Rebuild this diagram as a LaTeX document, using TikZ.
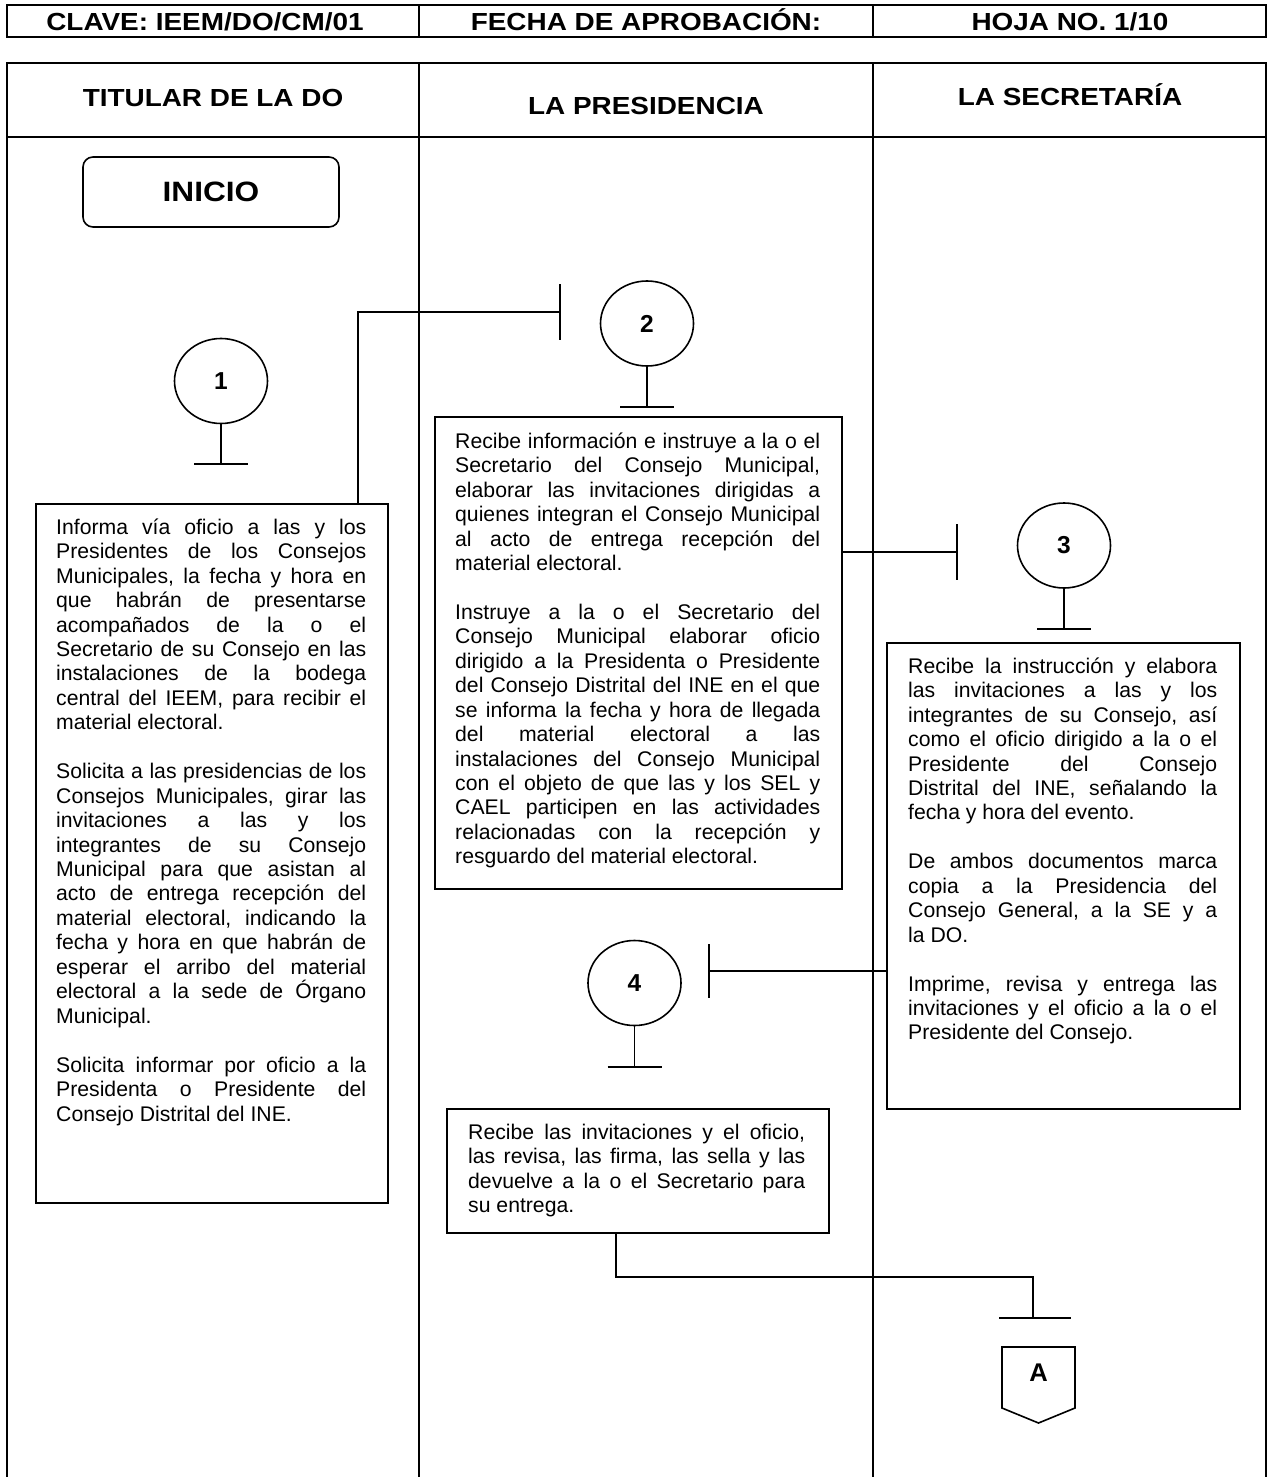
\documentclass[tikz,border=0pt]{standalone}
\usepackage{fontspec}
\setmainfont{Liberation Sans}
\newfontfamily\hdfont[FakeStretch=1.13]{Liberation Sans Bold}
\newfontfamily\bdfont{Liberation Sans Bold}
\usetikzlibrary{shapes.geometric}
\setlength\parindent{0pt}
\setlength\parskip{0pt}
\frenchspacing
\newcommand\jl[1]{\makebox[\hsize][s]{\spaceskip=0pt\xspaceskip=0pt\rule{0pt}{17pt}#1}\par}
\newcommand\lastl[1]{\makebox[\hsize][l]{\spaceskip=0pt\xspaceskip=0pt\rule{0pt}{17pt}#1}\par}
\newcommand\bl{\rule{0pt}{17pt}\par}
\tikzset{
  frame/.style={line width=2.8pt},
  lane/.style={line width=2pt},
  hdtext/.style={anchor=base, inner sep=0pt, font=\hdfont\fontsize{24.7}{29}\selectfont},
  boxnode/.style={draw, line width=1.8pt, inner sep=0pt, anchor=north west},
  txt/.style={inner sep=0pt, anchor=north west, font=\fontsize{21.2}{24.45}\selectfont},
  circ/.style={ellipse, draw, line width=1.6pt, minimum width=93pt, minimum height=85pt, inner sep=0pt, font=\bdfont\fontsize{24.5}{28}\selectfont},
  conn/.style={line width=1.6pt},
  startbox/.style={draw, line width=1.6pt, rounded corners=10pt, minimum width=256pt, minimum height=70pt, inner sep=0pt, font=\hdfont\fontsize{28}{32}\selectfont}
}
\begin{document}
\begin{tikzpicture}[x=1pt, y=-1pt]
\useasboundingbox (0,0) rectangle (1270,1477);
% header table
\draw[frame] (7,5) rectangle (1266,37);
\draw[frame] (419,5) -- (419,37);
\draw[frame] (873,5) -- (873,37);
\node[hdtext] (h1) at (205,31) {CLAVE: IEEM/DO/CM/01};
\node[hdtext] (h2) at (646,31) {FECHA DE APROBACIÓN:};
\node[hdtext] (h3) at (1070,31) {HOJA NO. 1/10};
% lanes
\draw[frame] (7,1477) -- (7,63) -- (1266,63) -- (1266,1477);
\draw[frame] (7,137) -- (1266,137);
\draw[lane] (419,63) -- (419,1477);
\draw[lane] (873,63) -- (873,1477);
\node[hdtext] (l1) at (213,107) {TITULAR DE LA DO};
\node[hdtext] (l2) at (646,115) {LA PRESIDENCIA};
\node[hdtext] (l3) at (1070,106) {LA SECRETARÍA};
% start
\node[startbox] (ini) at (211,192) {INICIO};
% circles
\node[circ] (c1) at (221,381) {1};
\node[circ] (c2) at (647,323.5) {2};
\node[circ] (c3) at (1064,545.5) {3};
\node[circ] (c4) at (634.5,983) {4};
\coordinate (t1) at (221,464);
\coordinate (t2) at (647,407);
\coordinate (t3) at (1064,629);
\coordinate (t4) at (634.5,1067);
\foreach \c/\t in {c1/t1,c2/t2,c3/t3,c4/t4}{
  \draw[conn] (\c.south) -- (\t);
  \draw[conn] ([xshift=-27pt]\t) -- ([xshift=27pt]\t);
}
% boxes
\node[boxnode, minimum width=352pt, minimum height=699pt] (b1) at (35,503) {};
\node[boxnode, minimum width=407pt, minimum height=472pt] (b2) at (434,416) {};
\node[boxnode, minimum width=353pt, minimum height=466pt] (b3) at (886,642) {};
\node[boxnode, minimum width=382pt, minimum height=124pt] (b4) at (446,1108) {};
% texts
\node[txt, text width=310pt] (x1) at (56,517) {%
\jl{Informa vía oficio a las y los}
\jl{Presidentes de los Consejos}
\jl{Municipales, la fecha y hora en}
\jl{que habrán de presentarse}
\jl{acompañados de la o el}
\jl{Secretario de su Consejo en las}
\jl{instalaciones de la bodega}
\jl{central del IEEM, para recibir el}
\lastl{material electoral.}
\bl
\jl{Solicita a las presidencias de los}
\jl{Consejos Municipales, girar las}
\jl{invitaciones a las y los}
\jl{integrantes de su Consejo}
\jl{Municipal para que asistan al}
\jl{acto de entrega recepción del}
\jl{material electoral, indicando la}
\jl{fecha y hora en que habrán de}
\jl{esperar el arribo del material}
\jl{electoral a la sede de Órgano}
\lastl{Municipal.}
\bl
\jl{Solicita informar por oficio a la}
\jl{Presidenta o Presidente del}
\lastl{Consejo Distrital del INE.}};
\node[txt, text width=365pt] (x2) at (455,431) {%
\jl{Recibe información e instruye a la o el}
\jl{Secretario del Consejo Municipal,}
\jl{elaborar las invitaciones dirigidas a}
\jl{quienes integran el Consejo Municipal}
\jl{al acto de entrega recepción del}
\lastl{material electoral.}
\bl
\jl{Instruye a la o el Secretario del}
\jl{Consejo Municipal elaborar oficio}
\jl{dirigido a la Presidenta o Presidente}
\jl{del Consejo Distrital del INE en el que}
\jl{se informa la fecha y hora de llegada}
\jl{del material electoral a las}
\jl{instalaciones del Consejo Municipal}
\jl{con el objeto de que las y los SEL y}
\jl{CAEL participen en las actividades}
\jl{relacionadas con la recepción y}
\lastl{resguardo del material electoral.}};
\node[txt, text width=309pt] (x3) at (908,656) {%
\jl{Recibe la instrucción y elabora}
\jl{las invitaciones a las y los}
\jl{integrantes de su Consejo, así}
\jl{como el oficio dirigido a la o el}
\jl{Presidente del Consejo}
\jl{Distrital del INE, señalando la}
\lastl{fecha y hora del evento.}
\bl
\jl{De ambos documentos marca}
\jl{copia a la Presidencia del}
\jl{Consejo General, a la SE y a}
\lastl{la DO.}
\bl
\jl{Imprime, revisa y entrega las}
\jl{invitaciones y el oficio a la o el}
\lastl{Presidente del Consejo.}};
\node[txt, text width=337pt] (x4) at (468,1122) {%
\jl{Recibe las invitaciones y el oficio,}
\jl{las revisa, las firma, las sella y las}
\jl{devuelve a la o el Secretario para}
\lastl{su entrega.}};
% connectors
\coordinate (k1) at (358,312);
\coordinate (k2) at (560,312);
\draw[conn] (b1.north -| k1) |- (k2);
\draw[conn] ([yshift=28pt]k2) -- ([yshift=-28pt]k2);
\coordinate (k3) at (957,552);
\draw[conn] (b2.east |- k3) -- (k3);
\draw[conn] ([yshift=28pt]k3) -- ([yshift=-28pt]k3);
\coordinate (k4) at (709,971);
\draw[conn] (b3.west |- k4) -- (k4);
\draw[conn] ([yshift=27pt]k4) -- ([yshift=-27pt]k4);
\coordinate (k5) at (616,1277);
\coordinate (kA) at (1033,1318);
\draw[conn] (b4.south -| k5) -- (k5) -| (kA);
\draw[conn] ([xshift=-34pt]kA) -- ([xshift=38pt]kA);
% off-page connector
\draw[conn] (1002,1347) -- (1075,1347) -- (1075,1408) -- (1038.5,1423) -- (1002,1408) -- cycle;
\node[inner sep=0pt, font=\bdfont\fontsize{25.6}{29}\selectfont] (offA) at (1038.5,1372.5) {A};
\end{tikzpicture}
\end{document}
